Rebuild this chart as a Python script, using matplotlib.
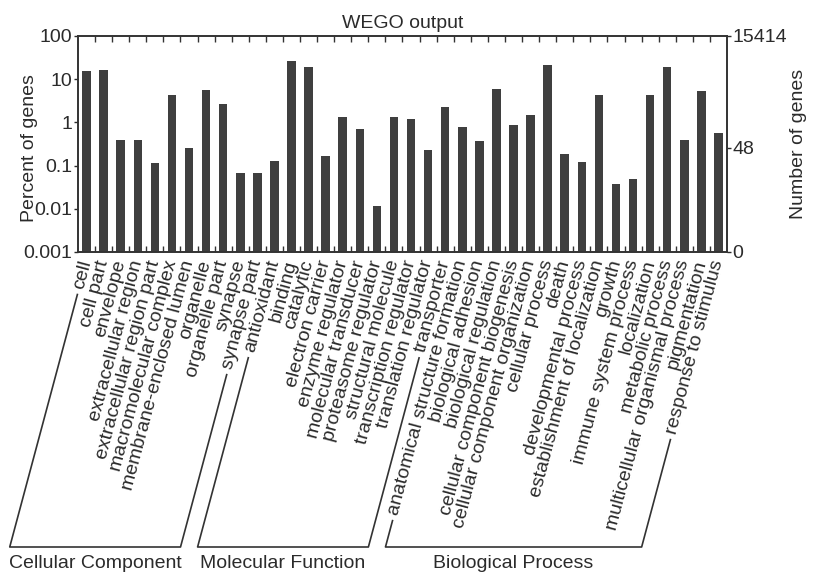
import matplotlib
matplotlib.use("Agg")
import matplotlib.pyplot as plt
from matplotlib.lines import Line2D
from matplotlib.ticker import NullLocator
import numpy as np

# GO terms per ontology
terms_cc = ["cell", "cell part", "envelope", "extracellular region",
            "extracellular region part", "macromolecular complex",
            "membrane-enclosed lumen", "organelle", "organelle part",
            "synapse", "synapse part"]
terms_mf = ["antioxidant", "binding", "catalytic", "electron carrier",
            "enzyme regulator", "molecular transducer", "proteasome regulator",
            "structural molecule", "transcription regulator",
            "translation regulator", "transporter"]
terms_bp = ["anatomical structure formation", "biological adhesion",
            "biological regulation", "cellular component biogenesis",
            "cellular component organization", "cellular process", "death",
            "developmental process", "establishment of localization", "growth",
            "immune system process", "localization", "metabolic process",
            "multicellular organismal process", "pigmentation",
            "response to stimulus"]

# Percent of genes
pct_cc = [15.7, 16.0, 0.39, 0.40, 0.115, 4.4, 0.26, 5.6, 2.67, 0.066, 0.066]
pct_mf = [0.126, 26.0, 19.5, 0.17, 1.36, 0.70, 0.0118, 1.36, 1.18, 0.23, 2.24]
pct_bp = [0.80, 0.38, 5.8, 0.86, 1.46, 21.7, 0.19, 0.12, 4.2, 0.037, 0.048,
          4.4, 18.8, 0.39, 5.3, 0.56]

group_names = ["Cellular Component", "Molecular Function", "Biological Process"]

left_ticks = [100, 10, 1, 0.1, 0.01, 0.001]
left_tick_labels = ["100", "10", "1", "0.1", "0.01", "0.001"]
right_ticks = [100, 0.26, 0.001]
right_tick_labels = ["15414", "48", "0"]

terms = terms_cc + terms_mf + terms_bp
pct = np.array(pct_cc + pct_mf + pct_bp)
group_sizes = [len(terms_cc), len(terms_mf), len(terms_bp)]

plt.rcParams["font.family"] = "Liberation Sans"
plt.rcParams["font.size"] = 14
text_color = "#2b2b2b"
bar_color = "#3f3f3f"
rot = 75

fig = plt.figure(figsize=(8.19, 5.73), dpi=100)
ax = fig.add_axes([78/819, 1 - 252/573, 649/819, 216/573])

x = np.arange(len(terms))
ymin = 0.001
ax.bar(x, pct - ymin, bottom=ymin, width=0.5, color=bar_color)
ax.set_yscale("log")
ax.set_ylim(ymin, 100)
ax.set_xlim(-0.5, len(terms) - 0.5)

ax.set_yticks(left_ticks)
ax.set_yticklabels(left_tick_labels)
ax.yaxis.set_minor_locator(NullLocator())
ax.tick_params(axis="y", length=3, width=1, pad=1, colors=text_color)

ax.set_xticks(x)
ax.set_xticklabels(terms, rotation=rot, ha="right", va="center",
                   rotation_mode="anchor", color=text_color)
ax.set_xticks(np.arange(0.5, len(terms) - 1, 1), minor=True)
ax.tick_params(axis="x", which="major", length=0, pad=6)
ax.tick_params(axis="x", which="minor", direction="in", top=True,
               bottom=True, length=4, width=1, color="#333333")

for sp in ax.spines.values():
    sp.set_color("#333333")
    sp.set_linewidth(1.2)

ax.set_title("WEGO output", fontsize=14, color=text_color, pad=6)
ax.set_ylabel("Percent of genes", color=text_color)
ax.yaxis.set_label_coords(-0.062, 0.48)

ax2 = ax.twinx()
ax2.set_yscale("log")
ax2.set_ylim(ax.get_ylim())
ax2.set_yticks(right_ticks)
ax2.set_yticklabels(right_tick_labels)
ax2.yaxis.set_minor_locator(NullLocator())
ax2.tick_params(axis="y", length=3, width=1, pad=1, colors=text_color)
ax2.set_ylabel("Number of genes", color=text_color)
ax2.yaxis.set_label_coords(1.097, 0.5)
for sp in ax2.spines.values():
    sp.set_color("#333333")
    sp.set_linewidth(1.2)

# Brackets under each ontology, parallel to the rotated labels
fig.canvas.draw()
renderer = fig.canvas.get_renderer()
labels = ax.get_xticklabels()
W, H = fig.bbox.width, fig.bbox.height
ang = np.radians(rot)
c, s = np.cos(ang), np.sin(ang)
base_y = H - 547
gap = 6


def text_start(t):
    bb = t.get_window_extent(renderer)
    L = (bb.height*s - bb.width*c)/(s*s - c*c)
    cx, cy = (bb.x0 + bb.x1)/2, (bb.y0 + bb.y1)/2
    return cx - L/2*c - gap*c, cy - L/2*s - gap*s


start = 0
for name, n in zip(group_names, group_sizes):
    x0, y0 = text_start(labels[start])
    x1, y1 = text_start(labels[start + n - 1])
    bx0 = x0 - (y0 - base_y)/np.tan(ang)
    bx1 = x1 - (y1 - base_y)/np.tan(ang)
    xs = np.array([x0, bx0, bx1, x1])/W
    ys = np.array([y0, base_y, base_y, y1])/H
    fig.add_artist(Line2D(xs, ys, transform=fig.transFigure,
                          color="#333333", linewidth=1.2))
    fig.text((bx0 + bx1)/2/W, (573 - 563)/H, name, ha="center", va="center",
             fontsize=14, color=text_color)
    start += n

fig.savefig("out.png", dpi=100)
